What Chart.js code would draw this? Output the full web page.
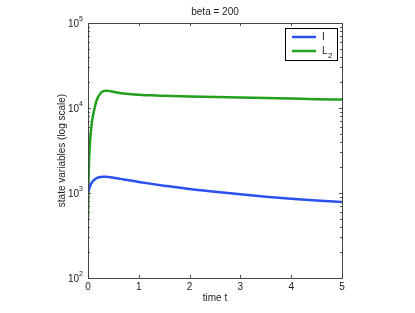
<!DOCTYPE html>
<html><head><meta charset="utf-8">
<script src="https://cdn.jsdelivr.net/npm/chart.js@4"></script>
<style>html,body{margin:0;padding:0;background:#fff}#wrap{width:415px;height:313px}</style>
</head><body><div id="wrap"><canvas id="c" width="415" height="313"></canvas></div>
<script>
const chartTitle = 'beta = 200';
const xLabel = 'time t';
const yLabel = 'state variables (log scale)';
const xTicks = [0,1,2,3,4,5];
const yDecades = [2,3,4,5];
const tValues = [0,0.01,0.02,0.04,0.06,0.08,0.1,0.13,0.16,0.2,0.25,0.3,0.35,0.4,0.5,0.6,0.7,0.8,1.0,1.25,1.5,2,2.5,3,3.5,4,4.5,5];
const iValues = [1000,1060,1110,1200,1280,1340,1390,1440,1480,1520,1545,1555,1555,1545,1515,1480,1445,1415,1350,1280,1220,1115,1035,965,905,855,815,783];
const l2Values = [500,1300,2300,4000,5500,7000,8200,10000,11800,13500,15000,15800,16000,15900,15500,15100,14800,14600,14300,14100,13900,13700,13500,13300,13100,12900,12700,12550];
const seriesNames = ['I','L\u2082'];
const seriesColors = ['#2b50f0','#22a01c'];

const FONT = '"Liberation Sans", Arial, sans-serif';

const decorPlugin = {
  id:'decor',
  afterDraw(chart){
    const ctx = chart.ctx, a = chart.chartArea;
    const xs = chart.scales.x, ys = chart.scales.y;
    ctx.save();
    ctx.strokeStyle = '#555'; ctx.lineWidth = 1;
    ctx.beginPath();
    xTicks.forEach(v=>{
      const px = Math.round(xs.getPixelForValue(v))+0.5;
      ctx.moveTo(px,a.bottom); ctx.lineTo(px,a.bottom-3);
      ctx.moveTo(px,a.top); ctx.lineTo(px,a.top+3);
    });
    for(let d=yDecades[0]; d<yDecades[yDecades.length-1]; d++){
      for(let m=1;m<=9;m++){
        const py = Math.round(ys.getPixelForValue(m*Math.pow(10,d)))+0.5;
        const len = m===1?3:2;
        ctx.moveTo(a.left,py); ctx.lineTo(a.left+len,py);
        ctx.moveTo(a.right,py); ctx.lineTo(a.right-len,py);
      }
    }
    ctx.stroke();
    ctx.strokeStyle = '#444';
    ctx.strokeRect(Math.round(a.left)+0.5, Math.round(a.top)+0.5, Math.round(a.right-a.left), Math.round(a.bottom-a.top));
    ctx.fillStyle = '#222';
    yDecades.forEach(d=>{
      const py = ys.getPixelForValue(Math.pow(10,d));
      ctx.font = '10px '+FONT;
      ctx.textAlign='right'; ctx.textBaseline='middle';
      const supW = 5;
      ctx.fillText('10', a.left-4-supW, py+1);
      ctx.font = '7px '+FONT;
      ctx.textAlign='left';
      ctx.fillText(String(d), a.left-4-supW, py-4);
    });
    ctx.font = '10px '+FONT; ctx.textAlign='center'; ctx.textBaseline='middle';
    ctx.fillText(chartTitle, (a.left+a.right)/2, 12);
    ctx.fillText(xLabel, (a.left+a.right)/2, 298);
    ctx.save();
    ctx.translate(62,(a.top+a.bottom)/2);
    ctx.rotate(-Math.PI/2);
    ctx.fillText(yLabel,0,0);
    ctx.restore();
    const lx=285, ly=28, lw=52, lh=32;
    ctx.fillStyle='#fff'; ctx.fillRect(lx,ly,lw,lh);
    ctx.strokeStyle='#000'; ctx.lineWidth=1;
    ctx.strokeRect(lx+0.5,ly+0.5,lw,lh);
    chart.data.datasets.forEach((ds,i)=>{
      const yy = ly+9+i*14;
      ctx.strokeStyle=ds.borderColor; ctx.lineWidth=2.5;
      ctx.beginPath(); ctx.moveTo(lx+7,yy); ctx.lineTo(lx+31,yy); ctx.stroke();
      ctx.fillStyle='#222'; ctx.textAlign='left'; ctx.textBaseline='middle';
      ctx.font='10px '+FONT;
      if(i===1){
        ctx.fillText('L', lx+37, yy);
        ctx.font='8px '+FONT;
        ctx.fillText('2', lx+43, yy+5);
      } else {
        ctx.fillText(ds.label, lx+37, yy);
      }
    });
    ctx.restore();
  }
};

new Chart(document.getElementById('c'),{
  type:'line',
  data:{
    datasets:[
      {label:seriesNames[0], data:tValues.map((t,i)=>({x:t,y:iValues[i]})), borderColor:seriesColors[0], borderWidth:2.5, pointRadius:0, cubicInterpolationMode:'monotone', fill:false},
      {label:seriesNames[1], data:tValues.map((t,i)=>({x:t,y:l2Values[i]})), borderColor:seriesColors[1], borderWidth:2.5, pointRadius:0, cubicInterpolationMode:'monotone', fill:false}
    ]
  },
  options:{
    responsive:false, animation:false, devicePixelRatio:1,
    layout:{padding:{left:0,right:73,top:23,bottom:0}},
    plugins:{legend:{display:false}, title:{display:false}, tooltip:{enabled:false}},
    scales:{
      x:{type:'linear', min:0, max:5, border:{display:false}, grid:{display:false, drawTicks:false, tickLength:0},
         afterFit(s){s.height=35;},
         afterBuildTicks(s){s.ticks = xTicks.map(v=>({value:v}));},
         ticks:{font:{family:FONT,size:10}, color:'#222', padding:3, maxRotation:0}},
      y:{type:'logarithmic', min:100, max:100000, border:{display:false}, grid:{display:false},
         afterFit(s){s.width=88;},
         ticks:{display:false}}
    }
  },
  plugins:[decorPlugin]
});
</script></body></html>
